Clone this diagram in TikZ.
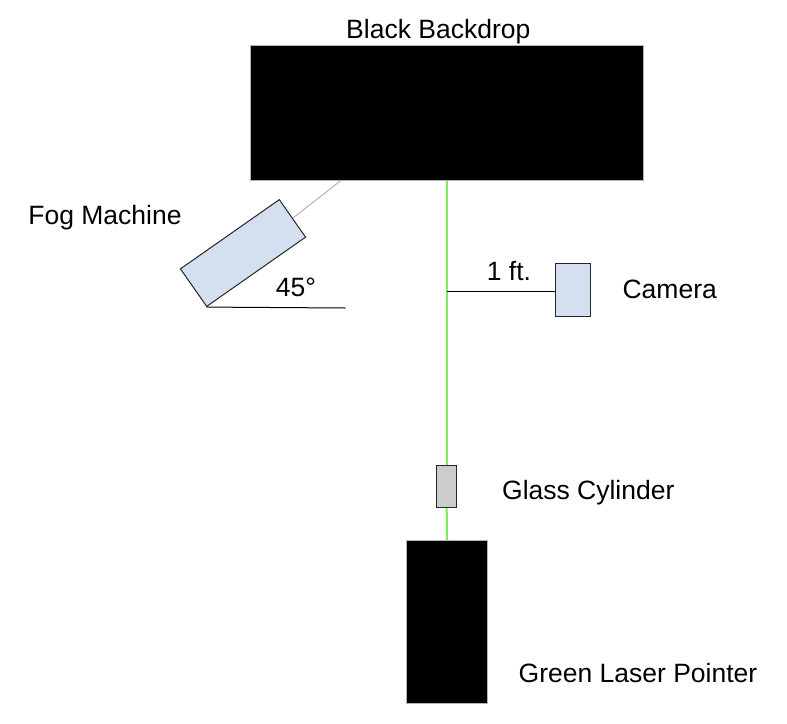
\documentclass[tikz,border=0pt]{standalone}
\usepackage{fontspec}
\setmainfont{Liberation Sans}
\usepackage{tikz}
\usetikzlibrary{positioning}
\definecolor{laser-green}{RGB}{125, 235, 95}
\definecolor{pale-blue}{RGB}{212, 224, 240}
\definecolor{glass-gray}{RGB}{204, 204, 204}

\begin{document}
\begin{tikzpicture}[x=1pt, y=-1pt,
    label/.style={anchor=base, inner sep=0pt, font=\fontsize{26.5}{30}\selectfont},
    blackbox/.style={draw=gray!60, line width=0.8pt, fill=black, inner sep=0pt},
    part/.style={draw=black!85, line width=1pt, inner sep=0pt},
    beam/.style={draw=laser-green, line width=2pt}]
    \useasboundingbox[fill=white] (0,0) rectangle (787,723);
    % backdrop and laser
    \node[blackbox, minimum width=393pt, minimum height=135pt] (backdrop) at (447.3,113) {};
    \node[label] (backdroplbl) at (438.3,38.3) {Black Backdrop};
    \node[blackbox, minimum width=80.6pt, minimum height=163pt] (laser) at (447,621.7) {};
    \node[label] (laserlbl) at (638,682) {Green Laser Pointer};
    % glass cylinder in the beam
    \node[part, fill=glass-gray, minimum width=20pt, minimum height=41.7pt] (glass) at (446.7,486.8) {};
    \node[label] (glasslbl) at (588.3,499.3) {Glass Cylinder};
    \draw[beam] (laser.north) -- (glass.south);
    \draw[beam] (glass.north) -- (glass.north |- backdrop.south);
    % camera, 1 ft. from the beam
    \node[part, fill=pale-blue, minimum width=35pt, minimum height=52.7pt] (camera) at (573.2,290.3) {};
    \node[label] (cameralbl) at (669.7,298.3) {Camera};
    \coordinate (tap) at (446.7,291);
    \draw[black, line width=1pt] (tap) -- (tap -| camera.west);
    \node[label] (dist) at (509,280.7) {1 ft.};
    % fog machine at 45 deg
    \node[part, fill=pale-blue, minimum width=120.7pt, minimum height=45.8pt, rotate=35] (fog) at (243,253) {};
    \node[label] (foglbl) at (105,224.3) {Fog Machine};
    \coordinate (hose) at (340.7,180.7);
    \draw[gray!60, line width=1pt] (fog.east) -- (hose);
    \coordinate (floor) at (345.7,308);
    \draw[black, line width=1pt] (fog.south west) -- (floor);
    \node[label] (angle) at (296,296) {45°};
\end{tikzpicture}
\end{document}
